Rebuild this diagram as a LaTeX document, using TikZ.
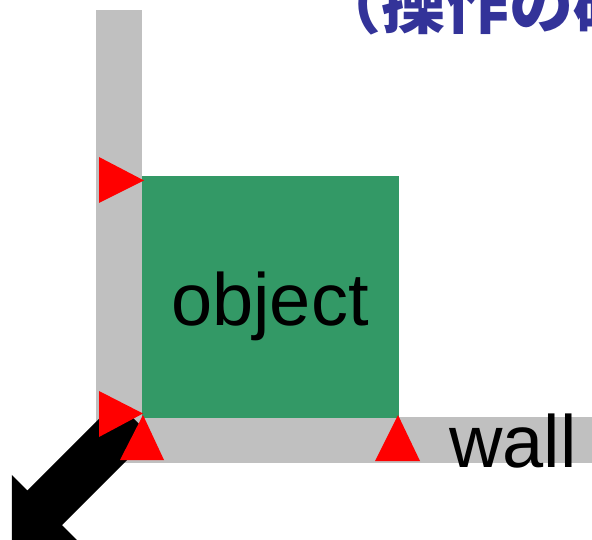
\documentclass[tikz,border=0pt]{standalone}
\usepackage{fontspec}
\setmainfont{Liberation Sans}
\newfontfamily\cjk{Noto Sans CJK JP}
\definecolor{wallgray}{RGB}{192,192,192}
\definecolor{objgreen}{RGB}{51,153,102}
\definecolor{titleblue}{RGB}{51,51,153}
\tikzset{
  wallbar/.style={fill=wallgray, draw=none},
  objbox/.style={fill=objgreen, draw=none, minimum width=257pt, minimum height=242pt, inner sep=0pt},
  bigtext/.style={font=\fontsize{74}{74}\selectfont, inner sep=0pt, text=black},
  contact/.style={fill=red, draw=none},
  pusharrow/.style={fill=black, draw=none},
  titletext/.style={font=\cjk\bfseries\fontsize{64}{64}\selectfont, text=titleblue, inner sep=0pt}
}
\begin{document}
\begin{tikzpicture}[x=1pt,y=-1pt]
\clip (0,0) rectangle (592,540);
\useasboundingbox (0,0) rectangle (592,540);
% walls
\path[wallbar] (96,10) rectangle (142,463);
\path[wallbar] (96,417) rectangle (592,463);
% object
\node[objbox] (obj) at (270.5,297) {};
\node[bigtext, anchor=base] (objtext) at (270,325) {object};
% push arrow
\path[pusharrow] (116.4,401.4) -- (27.4,490.4) -- (11.9,474.9) -- (11.9,540.6)
  -- (77.6,540.6) -- (62.1,525.1) -- (151.1,436.1) -- cycle;
% contact triangles
\path[contact] (99,157) -- (99,203) -- (144,180.5) -- cycle;
\path[contact] (99,391) -- (99,437) -- (143,413.5) -- cycle;
\path[contact] (143,415) -- (120,460) -- (164,460) -- cycle;
\path[contact] (398,415) -- (375,461) -- (420,461) -- cycle;
% labels
\node[bigtext, anchor=base west] (walltext) at (449,467) {wall};
\node[titletext, anchor=base west] (title) at (317,28.5) {（操作の確};
\end{tikzpicture}
\end{document}
